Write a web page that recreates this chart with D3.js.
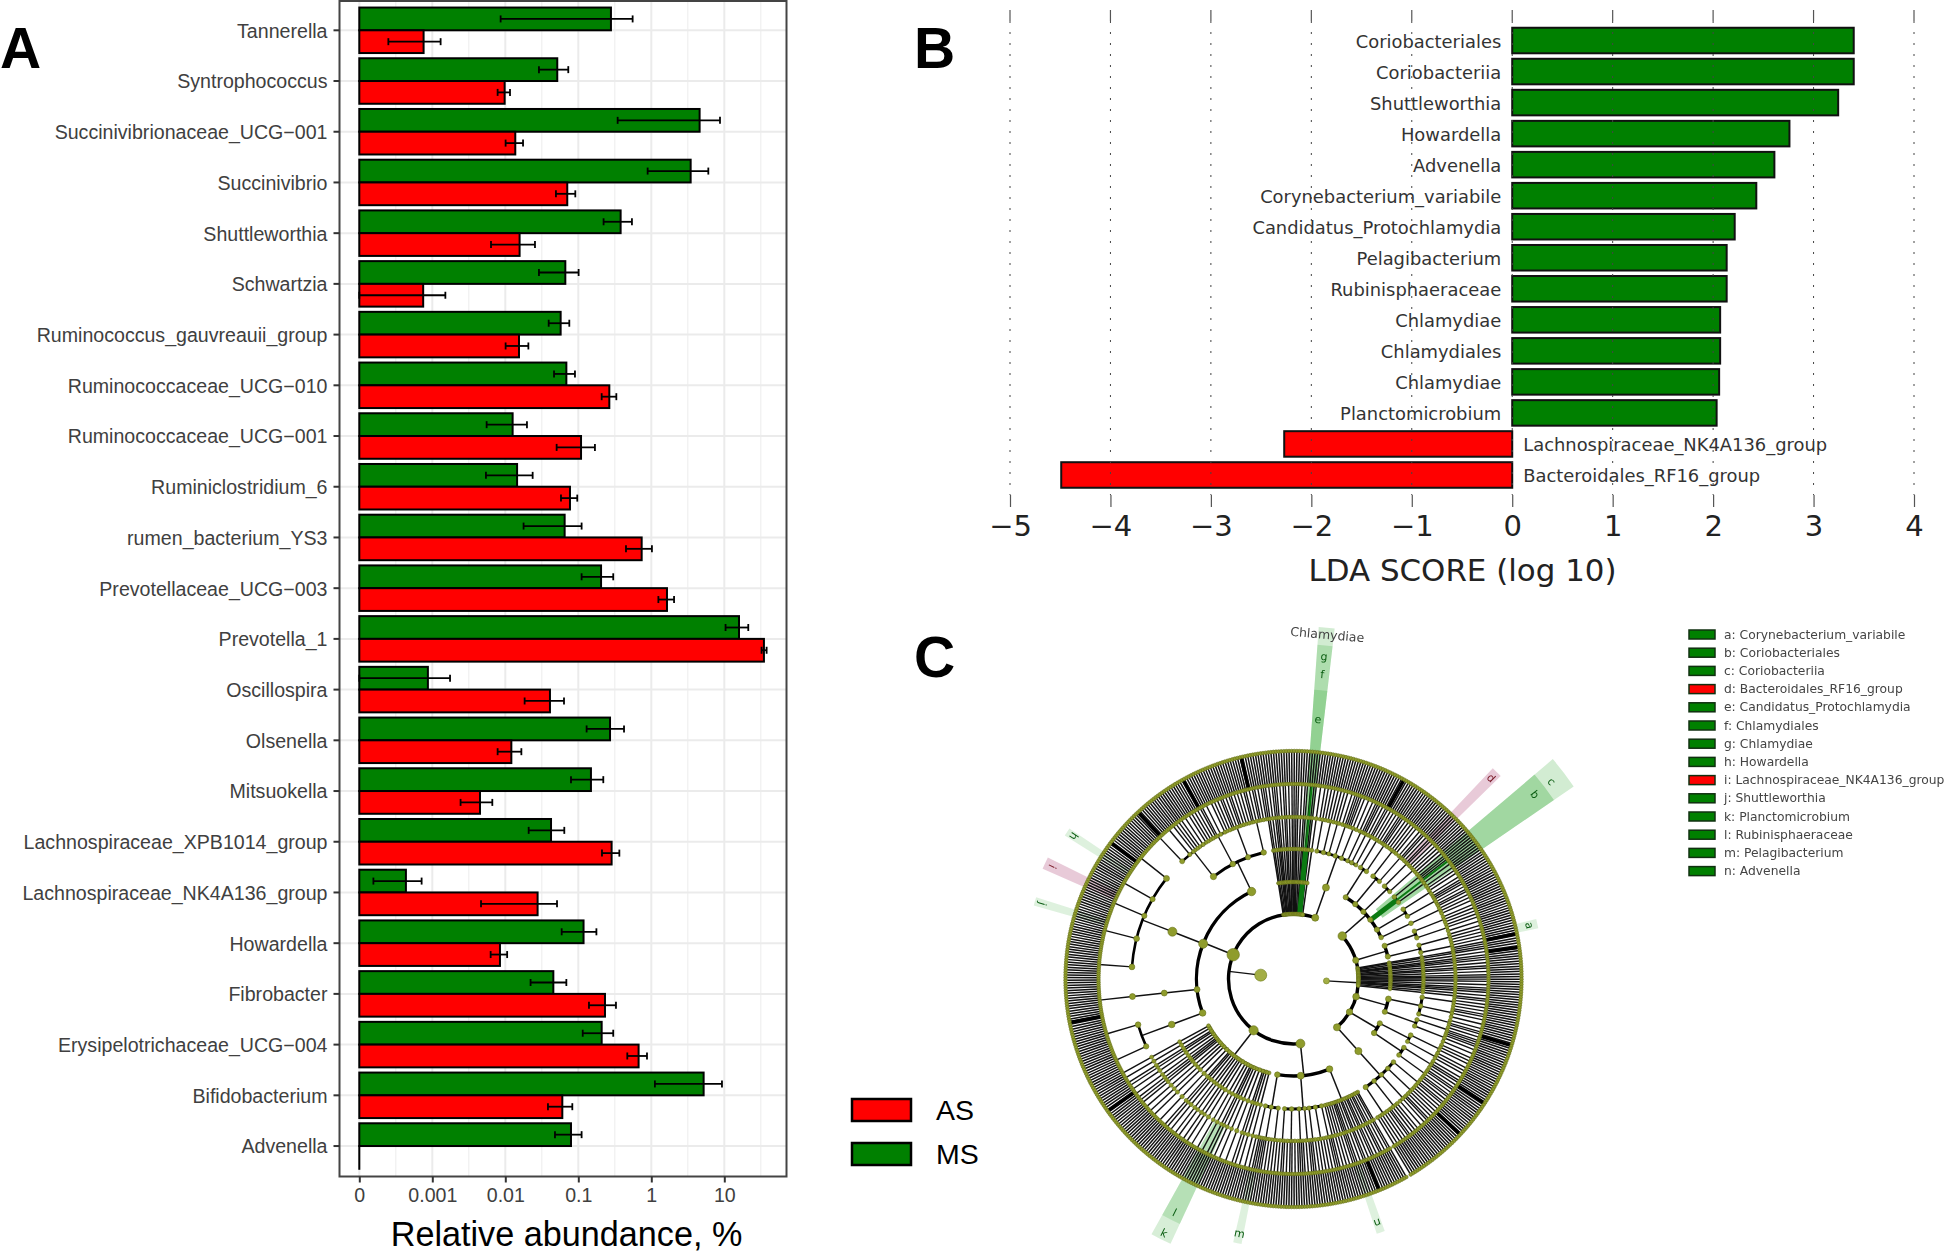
<!DOCTYPE html>
<html>
	<head>
		<meta charset="utf-8">
		<style>
			body { margin: 0; background: #fff; }
			text { font-family: "Liberation Sans", sans-serif; }
			.dejavu text, text.dejavu { font-family: "DejaVu Sans", sans-serif; }
		</style>
	</head>
	<body>
		<script src="https://cdn.jsdelivr.net/npm/d3@7"></script>
		<div id="canvas"></div>
		<script>
			// panel A, relative abundance in %
			var genera = ["Tannerella", "Syntrophococcus", "Succinivibrionaceae_UCG\u2212001", "Succinivibrio", "Shuttleworthia", "Schwartzia", "Ruminococcus_gauvreauii_group", "Ruminococcaceae_UCG\u2212010", "Ruminococcaceae_UCG\u2212001", "Ruminiclostridium_6", "rumen_bacterium_YS3", "Prevotellaceae_UCG\u2212003", "Prevotella_1", "Oscillospira", "Olsenella", "Mitsuokella", "Lachnospiraceae_XPB1014_group", "Lachnospiraceae_NK4A136_group", "Howardella", "Fibrobacter", "Erysipelotrichaceae_UCG\u2212004", "Bifidobacterium", "Advenella"];
			var msMean = [0.28, 0.0515, 4.59, 3.46, 0.38, 0.0664, 0.0573, 0.0686, 0.0126, 0.0145, 0.065, 0.205, 15.9, 0.00087, 0.272, 0.149, 0.0423, 0.000435, 0.118, 0.0455, 0.209, 5.21, 0.0794];
			var msLow = [0.00863, 0.0289, 0.346, 0.891, 0.222, 0.0289, 0.0393, 0.0465, 0.00555, 0.00543, 0.0178, 0.111, 10.4, 0.0001, 0.13, 0.0794, 0.0209, 0.000156, 0.0592, 0.0222, 0.115, 1.12, 0.0479];
			var msHigh = [0.555, 0.0729, 8.73, 6.04, 0.543, 0.101, 0.0753, 0.09, 0.0198, 0.0237, 0.111, 0.301, 21.3, 0.00175, 0.423, 0.22, 0.0643, 0.000714, 0.177, 0.0686, 0.301, 9.29, 0.111];
			var asMean = [0.00076, 0.0098, 0.0137, 0.0706, 0.0157, 0.00075, 0.0154, 0.266, 0.109, 0.0769, 0.738, 1.64, 34.9, 0.0409, 0.0121, 0.0045, 0.286, 0.0277, 0.00845, 0.232, 0.67, 0.0604, 0.0001];
			var asLow = [0.00025, 0.00785, 0.0101, 0.0494, 0.00637, 0.0001, 0.0101, 0.209, 0.0505, 0.0579, 0.45, 1.25, 32.4, 0.0184, 0.00785, 0.00244, 0.211, 0.00465, 0.0063, 0.14, 0.469, 0.0384, 0.0001];
			var asHigh = [0.0013, 0.0116, 0.0175, 0.091, 0.0255, 0.00151, 0.0207, 0.332, 0.169, 0.0968, 1.02, 2.05, 38, 0.0637, 0.0166, 0.00664, 0.365, 0.0511, 0.0106, 0.328, 0.873, 0.0828, 0.0001];
			var abundanceTicks = [0.0001, 0.001, 0.01, 0.1, 1, 10];
			var abundanceLabels = ["0", "0.001", "0.01", "0.1", "1", "10"];
			var abundanceMinor = [0.000316, 0.00316, 0.0316, 0.316, 3.16, 31.6];

			// panel B
			var ldaNames = ["Coriobacteriales", "Coriobacteriia", "Shuttleworthia", "Howardella", "Advenella", "Corynebacterium_variabile", "Candidatus_Protochlamydia", "Pelagibacterium", "Rubinisphaeraceae", "Chlamydiae", "Chlamydiales", "Chlamydiae", "Planctomicrobium", "Lachnospiraceae_NK4A136_group", "Bacteroidales_RF16_group"];
			var ldaScores = [3.40, 3.40, 3.245, 2.76, 2.61, 2.43, 2.215, 2.135, 2.135, 2.07, 2.07, 2.06, 2.035, -2.27, -4.49];
			var ldaTicks = [-5, -4, -3, -2, -1, 0, 1, 2, 3, 4];

			// panel C legend
			var cladeLetters = ["a", "b", "c", "d", "e", "f", "g", "h", "i", "j", "k", "l", "m", "n"];
			var cladeNames = ["Corynebacterium_variabile", "Coriobacteriales", "Coriobacteriia", "Bacteroidales_RF16_group", "Candidatus_Protochlamydia", "Chlamydiales", "Chlamydiae", "Howardella", "Lachnospiraceae_NK4A136_group", "Shuttleworthia", "Planctomicrobium", "Rubinisphaeraceae", "Pelagibacterium", "Advenella"];
			var cladeGroups = ["MS", "MS", "MS", "AS", "MS", "MS", "MS", "MS", "AS", "MS", "MS", "MS", "MS", "MS"];
			// clockwise degrees from 12 o'clock
			var cladeAngles = [77.2, 52.6, 52.6, 44.5, 5.4, 5.4, 5.4, 303, 295, 286.7, 207, 207, 192, 161];

			// cladogram taxonomy: phylum > class > order > family (number = genera in that family)
			// a bare number higher up is a lineage with a single path down to one family
			var kingdomB = [
				[[1, 1, 2, 1, 1, 2, 1, 1, 2, 1, 1, 2, 1, 1, 1, 2, 1, 2, 1], [[1, 1, 2], [1, 2, 1], [2, 1, 1], [1, 2], [1, 1, 1, 1], [2, 1, 1, 2], [1, 1, 2]], [[1, 2, 1], [2, 1, 1, 1], [1, 1, 2]]],
				[2, 3, 1, 2, 4, 2, 3, 1, 2, 3, 2, 4, 1, 3, 2, 2, 3, 1, 2, 4, 3, 2, 3, 2, 1, 2, 2, 3, 1, 2, 3, 2],
				[[[11, 14]], 17, [[15, 16, 10, 10, 17]], [[8, 3, 2, 1, 2, 1, 3, 1], [2, 1, 2, 1, 1, 3, 2, 1], [2, 1, 1, 2, 1, 1, 2], [1, 2, 1, 1, 2, 1, 1, 2, 1]]],
				1, 1, 2, 1, 1, 1, 2, 1, 1, 2, 1, 1, 1, 1, 2, 1, 1, 2, 1, 1,
				3,
				[[[1, 2, 1], [2, 1, 2], [1, 2], [2, 1, 1, 1], [1, 2, 2], [2, 1], [1, 1, 2], [1, 1]]]
			];
			var kingdomA = [
				[[[2, 1, 2], [1, 1, 1, 2]], [[1, 2, 1, 2], [2, 1, 1]], [[2, 1, 1, 2], [1, 2, 1]], [[2, 1, 1, 1], [1, 2, 2]], [[1, 2, 2, 1], [1, 1, 2, 1]], [[1, 2, 1, 2]]],
				[[[2, 1, 2], [1, 2, 2]], [[2, 1, 2], [1, 2, 1, 1]]],
				1, 1, 2, 1, 1, 1, 2, 1, 1, 2, 1, 1, 1, 1, 2, 1, 1, 1, 2, 1,
				[[[1, 2, 1, 2], [1, 1, 2, 2], [2, 1, 1]], [[2, 1, 1], [1, 1, 2, 2]]],
				[[[2, 1, 2, 2], [1, 2]], [[2, 1, 1, 2], [1, 1, 2, 1, 1]]],
				[[[2, 1, 1, 2], [1, 2, 1, 2], [1, 1, 2, 2], [2, 1, 2, 1], [1, 2, 1, 2, 1, 2]]]
			];
			// narrow black spots in the outer ring
			var darkSpokes = [29, 78.5, 82, 107, 123, 133, 158, 234.6, 259, 306.7, 317, 331, 346.7];

			var fullWidth = 1946;
			var fullHeight = 1254;
			var green = "#008000";
			var red = "#ff0000";

			var svg = d3.select("#canvas")
				.append("svg")
				.attr("width", fullWidth)
				.attr("height", fullHeight)
				.style("display", "block");

			// ---- panel letters
			svg.selectAll(".panel_letter")
				.data([["A", 0, 68], ["B", 914, 68], ["C", 914, 677]])
				.enter()
				.append("text")
				.attr("class", "panel_letter")
				.attr("x", function (d) { return d[1]; })
				.attr("y", function (d) { return d[2]; })
				.style("font-size", "57px")
				.style("font-weight", "bold")
				.text(function (d) { return d[0]; });

			// ---- panel A
			var panelA = { left: 339.5, right: 786.5, top: 1, bottom: 1176.5 };
			var xA = d3.scaleLog().domain([0.0001, 10]).range([359.3, 724.3]);
			var yA = d3.scaleBand().domain(genera).range([4.95, 1171.4]);
			var yDodge = d3.scaleBand().domain(["MS", "AS"]).range([2.6, 48.1]);

			var groupA = svg.append("g").attr("id", "panel_a");

			groupA.selectAll(".minor_grid")
				.data(abundanceMinor)
				.enter()
				.append("line")
				.attr("class", "minor_grid")
				.attr("x1", function (d) { return xA(d); })
				.attr("x2", function (d) { return xA(d); })
				.attr("y1", panelA.top)
				.attr("y2", panelA.bottom)
				.style("stroke", "#f0f0f0")
				.style("stroke-width", 1.2);

			groupA.selectAll(".major_grid")
				.data(abundanceTicks)
				.enter()
				.append("line")
				.attr("class", "major_grid")
				.attr("x1", function (d) { return xA(d); })
				.attr("x2", function (d) { return xA(d); })
				.attr("y1", panelA.top)
				.attr("y2", panelA.bottom)
				.style("stroke", "#ebebeb")
				.style("stroke-width", 2);

			groupA.selectAll(".row_grid")
				.data(genera)
				.enter()
				.append("line")
				.attr("class", "row_grid")
				.attr("x1", panelA.left)
				.attr("x2", panelA.right)
				.attr("y1", function (d) { return yA(d) + yA.bandwidth() / 2; })
				.attr("y2", function (d) { return yA(d) + yA.bandwidth() / 2; })
				.style("stroke", "#ebebeb")
				.style("stroke-width", 2);

			var abundanceRows = [];
			genera.forEach(function (name, i) {
				abundanceRows.push({ name: name, group: "MS", mean: msMean[i], low: msLow[i], high: msHigh[i] });
				abundanceRows.push({ name: name, group: "AS", mean: asMean[i], low: asLow[i], high: asHigh[i] });
			});

			groupA.selectAll(".abundance_bar")
				.data(abundanceRows)
				.enter()
				.append("rect")
				.attr("class", "abundance_bar")
				.attr("x", xA(0.0001))
				.attr("y", function (d) { return yA(d.name) + yDodge(d.group); })
				.attr("width", function (d) { return Math.max(xA(d.mean) - xA(0.0001), 0.01); })
				.attr("height", yDodge.bandwidth())
				.style("fill", function (d) { return d.group == "MS" ? green : red; })
				.style("stroke", "#000")
				.style("stroke-width", 2);

			var errorRows = abundanceRows.filter(function (d) { return d.mean > 0.0001; });
			var errorBars = groupA.selectAll(".error_bar")
				.data(errorRows)
				.enter()
				.append("g")
				.attr("class", "error_bar")
				.attr("transform", function (d) {
					return "translate(0," + (yA(d.name) + yDodge(d.group) + yDodge.bandwidth() / 2) + ")";
				})
				.style("stroke", "#000")
				.style("stroke-width", 1.8);
			errorBars.append("line")
				.attr("x1", function (d) { return xA(d.low); })
				.attr("x2", function (d) { return xA(d.high); });
			errorBars.append("line")
				.attr("x1", function (d) { return xA(d.low); })
				.attr("x2", function (d) { return xA(d.low); })
				.attr("y1", -3.5)
				.attr("y2", 3.5);
			errorBars.append("line")
				.attr("x1", function (d) { return xA(d.high); })
				.attr("x2", function (d) { return xA(d.high); })
				.attr("y1", -3.5)
				.attr("y2", 3.5);

			groupA.append("rect")
				.attr("x", panelA.left)
				.attr("y", panelA.top)
				.attr("width", panelA.right - panelA.left)
				.attr("height", panelA.bottom - panelA.top)
				.style("fill", "none")
				.style("stroke", "#444")
				.style("stroke-width", 2);

			var axisBottomA = groupA.append("g")
				.attr("transform", "translate(0," + panelA.bottom + ")")
				.call(d3.axisBottom(xA)
					.tickValues(abundanceTicks)
					.tickFormat(function (d, i) { return abundanceLabels[i]; })
					.tickSize(6)
					.tickPadding(6));
			var axisLeftA = groupA.append("g")
				.attr("transform", "translate(" + panelA.left + ",0)")
				.call(d3.axisLeft(yA).tickSize(6).tickPadding(6));
			[axisBottomA, axisLeftA].forEach(function (axis) {
				axis.select(".domain").remove();
				axis.selectAll("line").style("stroke", "#333").style("stroke-width", 2);
				axis.selectAll("text")
					.style("font-family", '"Liberation Sans", sans-serif')
					.style("font-size", "19.6px")
					.style("fill", "#404040");
			});
			axisLeftA.selectAll("text").attr("dy", "0.38em");

			groupA.append("text")
				.attr("x", 566.5)
				.attr("y", 1246)
				.attr("text-anchor", "middle")
				.style("font-size", "34.2px")
				.text("Relative abundance, %");

			// legend of panel A
			var legendA = groupA.selectAll(".legend_a")
				.data(["AS", "MS"])
				.enter()
				.append("g")
				.attr("class", "legend_a")
				.attr("transform", function (d, i) { return "translate(852," + (1099 + i * 44) + ")"; });
			legendA.append("rect")
				.attr("width", 59)
				.attr("height", 22)
				.style("fill", function (d) { return d == "MS" ? green : red; })
				.style("stroke", "#000")
				.style("stroke-width", 2.5);
			legendA.append("text")
				.attr("x", 84)
				.attr("y", 21)
				.style("font-size", "28.5px")
				.text(function (d) { return d; });

			// ---- panel B
			var xB = d3.scaleLinear().domain([-5, 4]).range([1010, 1914]);
			var yB = d3.scaleBand().domain(d3.range(ldaNames.length)).range([25, 490.5]);
			var groupB = svg.append("g").attr("id", "panel_b").attr("class", "dejavu");

			groupB.selectAll(".lda_bar")
				.data(ldaScores)
				.enter()
				.append("rect")
				.attr("class", "lda_bar")
				.attr("x", function (d) { return xB(Math.min(d, 0)); })
				.attr("y", function (d, i) { return yB(i) + 2.75; })
				.attr("width", function (d) { return Math.abs(xB(d) - xB(0)); })
				.attr("height", yB.bandwidth() - 5.5)
				.style("fill", function (d) { return d > 0 ? green : red; })
				.style("stroke", "#111")
				.style("stroke-width", 2);

			groupB.selectAll(".lda_label")
				.data(ldaNames)
				.enter()
				.append("text")
				.attr("class", "lda_label")
				.attr("x", function (d, i) { return ldaScores[i] > 0 ? xB(0) - 11 : xB(0) + 11; })
				.attr("y", function (d, i) { return yB(i) + yB.bandwidth() / 2 + 7.5; })
				.attr("text-anchor", function (d, i) { return ldaScores[i] > 0 ? "end" : "start"; })
				.style("font-size", "17.9px")
				.style("fill", "#333")
				.text(function (d) { return d; });

			groupB.selectAll(".lda_grid")
				.data(ldaTicks)
				.enter()
				.append("line")
				.attr("class", "lda_grid")
				.attr("x1", function (d) { return xB(d); })
				.attr("x2", function (d) { return xB(d); })
				.attr("y1", 21)
				.attr("y2", 495)
				.style("stroke", "#444")
				.style("stroke-width", 1)
				.style("stroke-dasharray", "2 9");

			groupB.selectAll(".lda_top_tick")
				.data(ldaTicks)
				.enter()
				.append("line")
				.attr("class", "lda_top_tick")
				.attr("x1", function (d) { return xB(d); })
				.attr("x2", function (d) { return xB(d); })
				.attr("y1", 10)
				.attr("y2", 21)
				.style("stroke", "#555")
				.style("stroke-width", 1.2);

			var axisB = groupB.append("g")
				.attr("transform", "translate(0,495)")
				.call(d3.axisBottom(xB).tickValues(ldaTicks).tickSize(12).tickPadding(8).tickFormat(d3.format("d")));
			axisB.select(".domain").remove();
			axisB.selectAll("line").style("stroke", "#555").style("stroke-width", 1.2);
			axisB.selectAll("text")
				.style("font-family", '"DejaVu Sans", sans-serif')
				.style("font-size", "29px")
				.style("fill", "#222");

			groupB.append("text")
				.attr("x", 1462.5)
				.attr("y", 581)
				.attr("text-anchor", "middle")
				.style("font-size", "30.9px")
				.style("fill", "#222")
				.text("LDA SCORE (log 10)");

			// ---- panel C, cladogram
			var ringRadius = [0, 33, 65, 97, 130, 162, 195, 228];
			var branchWidth = [0, 1.3, 1.5, 1.5, 1.4, 1.4, 1.5, 1.3];
			var arcWidth = [0, 0, 3.4, 3.4, 3, 2.6, 1.4, 0.8];
			var startAngle = 150;

			function buildClade(spec, level) {
				if (typeof spec == "number") {
					if (level < 5) return { children: [buildClade(spec, level + 1)] };
					// family: n genera, each with its one species
					return { children: d3.range(spec).map(function () { return { children: [{}] }; }) };
				}
				return { children: spec.map(function (s) { return buildClade(s, level + 1); }) };
			}

			var root = d3.hierarchy({
				children: [
					{ children: kingdomB.map(function (s) { return buildClade(s, 2); }) },
					{ children: kingdomA.map(function (s) { return buildClade(s, 2); }) }
				]
			});
			d3.cluster().size([359.4, 1]).separation(function () { return 1; })(root);
			root.eachAfter(function (n) {
				if (n.children) n.x = (n.children[0].x + n.children[n.children.length - 1].x) / 2;
			});

			var cladeCenter = [1293.5, 979];
			var groupC = svg.append("g")
				.attr("id", "panel_c")
				.attr("class", "dejavu")
				.attr("transform", "translate(" + cladeCenter[0] + "," + cladeCenter[1] + ")")
				.style("filter", "blur(0.6px)");

			function rad(deg) { return deg * Math.PI / 180; }
			function nodeAngle(n) { return rad(startAngle + n.x); }
			var arcPath = d3.arc();
			// node size follows how many species sit under the node
			var nodeSize = d3.scaleSqrt().domain([1, 120]).range([1.8, 5.5]);

			// highlight bands sit under the tree: extent and half angle per letter
			var bandLook = {
				a: { r0: 228, r1: 250, half: 1.1, alpha: 0.15, at: 242 },
				b: { r0: 108, r1: 316, half: 2.9, alpha: 0.28, at: 304 },
				c: { r0: 108, r1: 340, half: 2.9, alpha: 0.2, at: 325 },
				d: { r0: 164, r1: 290, half: 1.1, alpha: 0.26, at: 282 },
				e: { r0: 67, r1: 290, half: 1.3, alpha: 0.2, at: 261 },
				f: { r0: 67, r1: 335, half: 1.3, alpha: 0.2, at: 306 },
				g: { r0: 67, r1: 353, half: 1.3, alpha: 0.2, at: 324 },
				h: { r0: 195, r1: 270, half: 0.9, alpha: 0.15, at: 262 },
				i: { r0: 197, r1: 274, half: 1.3, alpha: 0.26, at: 266 },
				j: { r0: 195, r1: 270, half: 0.9, alpha: 0.15, at: 262 },
				k: { r0: 163, r1: 292, half: 2.1, alpha: 0.18, at: 285 },
				l: { r0: 163, r1: 270, half: 2.1, alpha: 0.18, at: 262 },
				m: { r0: 195, r1: 270, half: 0.9, alpha: 0.15, at: 260 },
				n: { r0: 195, r1: 268, half: 0.9, alpha: 0.15, at: 258 }
			};

			groupC.selectAll(".clade_band")
				.data(cladeLetters)
				.enter()
				.append("path")
				.attr("class", "clade_band")
				.attr("d", function (d, i) {
					var look = bandLook[d];
					return arcPath({
						innerRadius: look.r0,
						outerRadius: look.r1,
						startAngle: rad(cladeAngles[i] - look.half),
						endAngle: rad(cladeAngles[i] + look.half)
					});
				})
				.style("fill", function (d, i) { return cladeGroups[i] == "MS" ? "#1f9e1f" : "#a8326a"; })
				.style("fill-opacity", function (d) { return bandLook[d].alpha; });

			var branches = root.descendants().filter(function (n) { return n.depth > 0 && n.children; });

			groupC.selectAll(".clade_branch")
				.data(branches)
				.enter()
				.append("line")
				.attr("class", "clade_branch")
				.each(function (n) {
					var p0 = d3.pointRadial(nodeAngle(n), ringRadius[n.depth]);
					var p1 = d3.pointRadial(nodeAngle(n), ringRadius[n.depth + 1]);
					d3.select(this)
						.attr("x1", p0[0]).attr("y1", p0[1])
						.attr("x2", p1[0]).attr("y2", p1[1]);
				})
				.style("stroke", "#111")
				.style("stroke-width", function (n) { return branchWidth[n.depth]; });

			groupC.selectAll(".clade_arc")
				.data(branches.filter(function (n) { return n.children.length > 1; }))
				.enter()
				.append("path")
				.attr("class", "clade_arc")
				.attr("d", function (n) {
					var r = ringRadius[n.depth + 1];
					return arcPath({
						innerRadius: r,
						outerRadius: r,
						startAngle: nodeAngle(n.children[0]),
						endAngle: nodeAngle(n.children[n.children.length - 1])
					});
				})
				.style("fill", "none")
				.style("stroke", "#000")
				.style("stroke-width", function (n) { return arcWidth[n.depth + 1]; });

			groupC.selectAll(".dark_spoke")
				.data(darkSpokes)
				.enter()
				.append("line")
				.attr("class", "dark_spoke")
				.each(function (a) {
					var p0 = d3.pointRadial(rad(a), ringRadius[6]);
					var p1 = d3.pointRadial(rad(a), ringRadius[7]);
					d3.select(this)
						.attr("x1", p0[0]).attr("y1", p0[1])
						.attr("x2", p1[0]).attr("y2", p1[1]);
				})
				.style("stroke", "#000")
				.style("stroke-width", 3.5);

			// dark green branches of the two big biomarker clades
			groupC.selectAll(".biomarker_branch")
				.data([[5.4, 65, 130, 5], [5.4, 130, 195, 2], [52.6, 97, 130, 5], [52.6, 130, 195, 2]])
				.enter()
				.append("line")
				.attr("class", "biomarker_branch")
				.each(function (d) {
					var p0 = d3.pointRadial(rad(d[0]), d[1]);
					var p1 = d3.pointRadial(rad(d[0]), d[2]);
					d3.select(this)
						.attr("x1", p0[0]).attr("y1", p0[1])
						.attr("x2", p1[0]).attr("y2", p1[1]);
				})
				.style("stroke", "#0b7a12")
				.style("stroke-width", function (d) { return d[3]; });

			groupC.selectAll(".clade_node")
				.data(root.descendants().filter(function (n) { return n.depth > 1; }))
				.enter()
				.append("circle")
				.attr("class", "clade_node")
				.attr("transform", function (n) {
					var p = d3.pointRadial(nodeAngle(n), ringRadius[n.depth]);
					return "translate(" + p[0] + "," + p[1] + ")";
				})
				.attr("r", function (n) { return nodeSize(n.leaves().length); })
				.style("fill", "#8f9c2c")
				.style("stroke", "#66701a")
				.style("stroke-width", 0.6);

			// the two kingdom nodes, the left one is far bigger
			groupC.selectAll(".kingdom_node")
				.data(root.children)
				.enter()
				.append("circle")
				.attr("class", "kingdom_node")
				.attr("transform", function (n) {
					var p = d3.pointRadial(nodeAngle(n), ringRadius[1]);
					return "translate(" + p[0] + "," + p[1] + ")";
				})
				.attr("r", function (n, i) { return i == 0 ? 6 : 3; })
				.style("fill", "#a3ae45")
				.style("stroke", "#6f7d1a")
				.style("stroke-width", 0.6);

			groupC.selectAll(".clade_letter")
				.data(cladeLetters)
				.enter()
				.append("text")
				.attr("class", "clade_letter")
				.attr("text-anchor", "middle")
				.attr("dy", "0.35em")
				.attr("transform", function (d, i) {
					var a = cladeAngles[i];
					var p = d3.pointRadial(rad(a), bandLook[d].at);
					return "translate(" + p[0] + "," + p[1] + ") rotate(" + (a <= 180 ? a : a - 180) + ")";
				})
				.style("font-size", "11px")
				.style("fill", function (d, i) { return cladeGroups[i] == "MS" ? "#0b5d12" : "#7a1c2a"; })
				.text(function (d) { return d; });

			groupC.append("text")
				.attr("text-anchor", "middle")
				.attr("transform", function () {
					var p = d3.pointRadial(rad(5.6), 346);
					return "translate(" + p[0] + "," + p[1] + ") rotate(5)";
				})
				.attr("dy", "0.35em")
				.style("font-size", "12.5px")
				.style("fill", "#444")
				.text("Chlamydiae");

			// legend of panel C
			var legendC = svg.append("g").attr("class", "dejavu").style("filter", "blur(0.45px)")
				.selectAll(".legend_c")
				.data(cladeLetters)
				.enter()
				.append("g")
				.attr("class", "legend_c")
				.attr("transform", function (d, i) { return "translate(1689," + (634.5 + i * 18.2) + ")"; });
			legendC.append("rect")
				.attr("y", -4.5)
				.attr("width", 26)
				.attr("height", 9)
				.style("fill", function (d, i) { return cladeGroups[i] == "MS" ? green : red; })
				.style("stroke", "#103010")
				.style("stroke-width", 1.5);
			legendC.append("text")
				.attr("x", 35)
				.attr("y", 4)
				.style("font-size", "12.3px")
				.style("fill", "#444")
				.text(function (d, i) { return d + ": " + cladeNames[i]; });
		</script>
	</body>
</html>
